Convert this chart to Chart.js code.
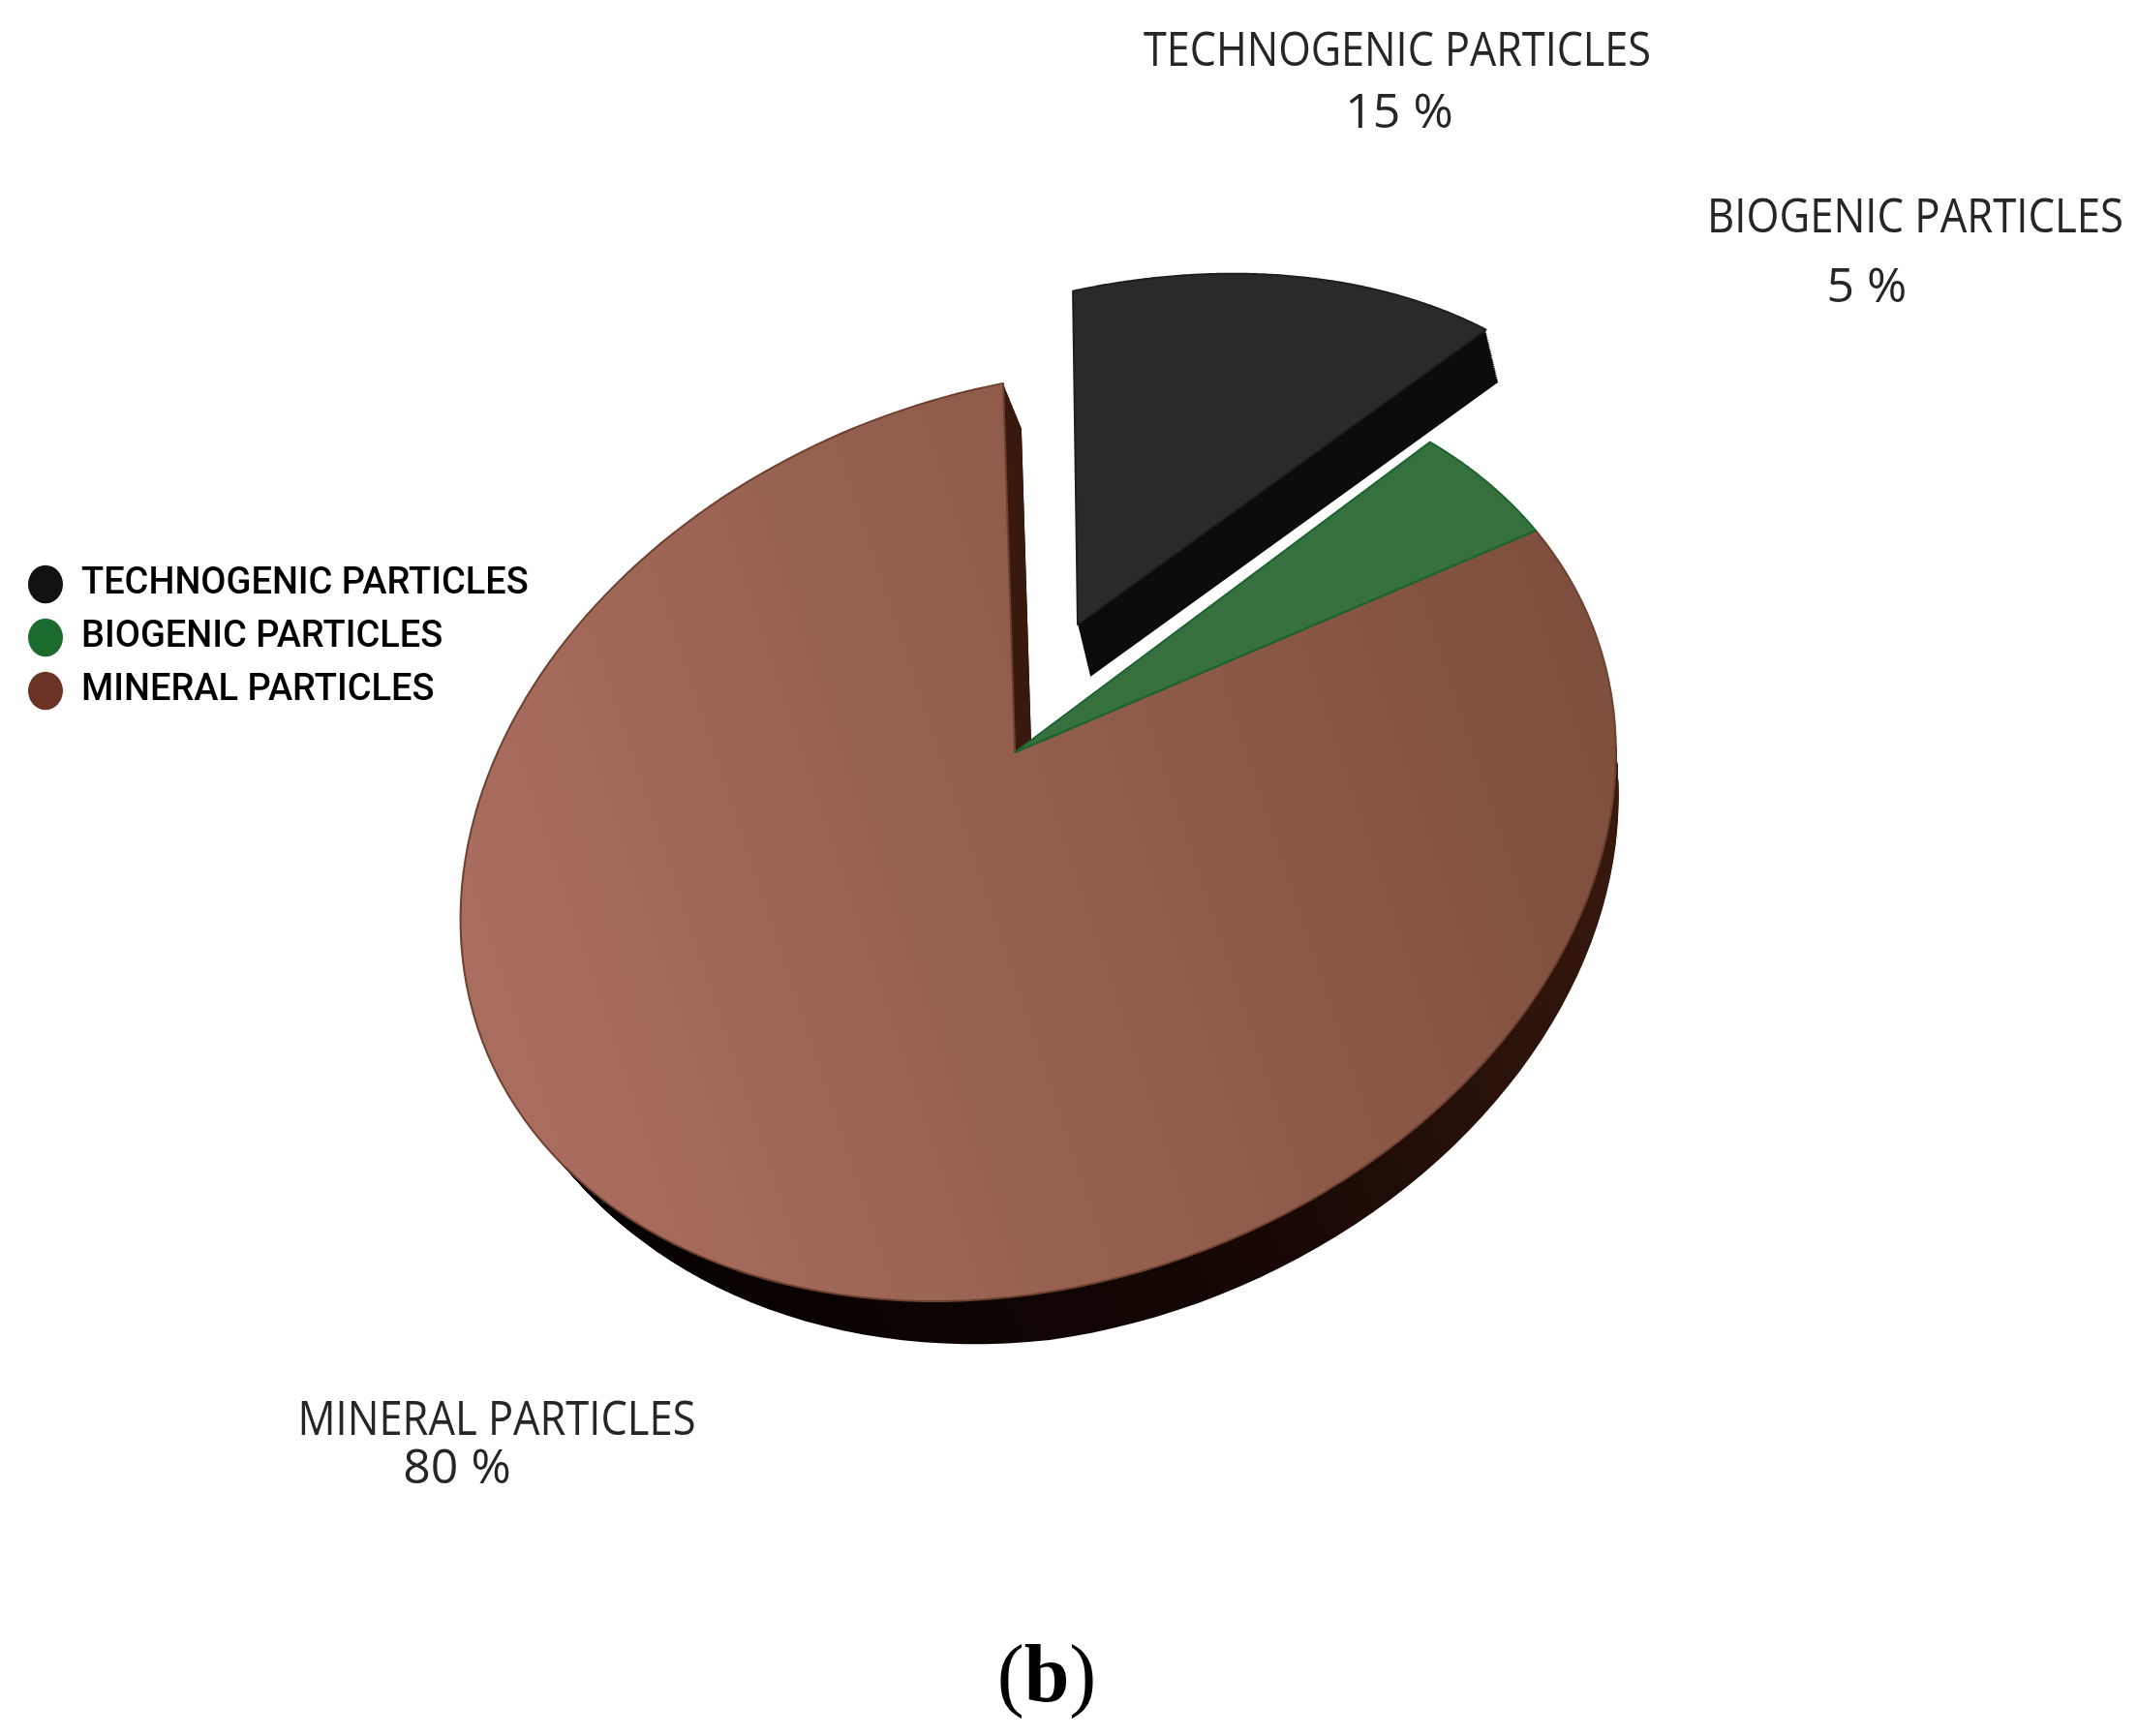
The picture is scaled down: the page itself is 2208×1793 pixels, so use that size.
<!DOCTYPE html>
<html>
<head>
<meta charset="utf-8">
<title>Particles</title>
<script src="https://cdn.jsdelivr.net/npm/chart.js@4"></script>
<style>
  body { margin: 0; background: #fff; }
  #wrap { position: relative; width: 2208px; height: 1793px; }
  #caption { position: absolute; left: 981px; width: 200px; top: 1680px; text-align: center;
    font: 400 84px "Liberation Serif", serif; color: #000; }
</style>
</head>
<body>
<div id="wrap">
  <canvas id="myChart" width="2208" height="1793"></canvas>
  <div id="caption">(<b>b</b>)</div>
</div>
<script>
const categories = ["TECHNOGENIC PARTICLES", "BIOGENIC PARTICLES", "MINERAL PARTICLES"];
const percents = [15, 5, 80];
const sliceColors = ["#292a2a", "#36703f", "#8f5c4b"];
const legendColors = ["#111212", "#1c6b2e", "#6b3226"];

/* where four rim points of the pie land in the tilted picture */
const rimTop = { x: 1036, y: 396 };     // 0 deg
const rimBottom = { x: 1066, y: 1337 }; // 180 deg
const rimRight = { x: 1586, y: 548 };   // end of the biogenic slice
const rimLeft = { x: 482, y: 1018 };    // opposite of that

function crossing(a, b, c, d) {
  var s = ((c.x - a.x) * (d.y - c.y) - (c.y - a.y) * (d.x - c.x)) /
          ((b.x - a.x) * (d.y - c.y) - (b.y - a.y) * (d.x - c.x));
  return { x: a.x + s * (b.x - a.x), y: a.y + s * (b.y - a.y) };
}

function makeProjection(splitAngle) {
  var c = crossing(rimTop, rimBottom, rimRight, rimLeft);
  var g = (2 * c.y - rimTop.y - rimBottom.y) / (rimTop.y - rimBottom.y);
  var h = (2 * c.y - rimRight.y - rimLeft.y) / (rimRight.y - rimLeft.y);
  var px = rimTop.x * (1 + g) - c.x, py = rimTop.y * (1 + g) - c.y;
  var qx = rimRight.x * (1 + h) - c.x, qy = rimRight.y * (1 + h) - c.y;
  var bx = Math.cos(splitAngle), by = Math.sin(splitAngle);
  return function (radius, angle) {
    var x = radius * Math.cos(angle), y = radius * Math.sin(angle);
    var v = x / bx;
    var u = -y + v * by;
    var w = u * g + v * h + 1;
    return { x: (u * px + v * qx + c.x) / w, y: (u * py + v * qy + c.y) / w };
  };
}

function fillPts(ctx, pts, fill, stroke) {
  ctx.beginPath();
  pts.forEach(function (p, i) {
    if (i === 0) ctx.moveTo(p.x, p.y); else ctx.lineTo(p.x, p.y);
  });
  ctx.closePath();
  ctx.fillStyle = fill;
  ctx.fill();
  if (stroke) {
    ctx.strokeStyle = stroke;
    ctx.lineWidth = 2;
    ctx.lineJoin = "round";
    ctx.stroke();
  }
}

// fills the side wall by stacking the slice outline down its depth
function extrude(ctx, pts, depth, fill) {
  for (var i = 30; i > 0; i--) {
    var t = i / 30;
    fillPts(ctx, pts.map(function (p) {
      var d = depth(p);
      return { x: p.x + d.x * t, y: p.y + d.y * t };
    }), fill);
  }
}

const tiltedPie = {
  id: "tiltedPie",
  beforeDatasetsDraw: function (chart) {
    var ctx = chart.ctx;
    var arcs = chart.getDatasetMeta(0).data;
    var project = makeProjection(arcs[1].endAngle);
    var slices = arcs.map(function (el) {
      var pts = [project(0, 0)];
      for (var i = 0; i <= 160; i++) {
        pts.push(project(1, el.startAngle + (el.endAngle - el.startAngle) * i / 160));
      }
      return pts;
    });

    // mineral: side wall, then top
    var mineralDepth = function (p) {
      return {
        x: 33 - (p.x - 480) * 30 / 1180,
        y: Math.min(47, Math.max(34, 36 + (p.x - 700) * 0.03))
      };
    };
    var side = ctx.createLinearGradient(600, 1300, 1680, 800);
    side.addColorStop(0, "#040000");
    side.addColorStop(0.55, "#170804");
    side.addColorStop(1, "#3a1a10");
    extrude(ctx, slices[2], mineralDepth, side);
    // the cut face next to the gap is lighter than the rim
    ctx.save();
    ctx.beginPath();
    ctx.rect(1030, 385, 50, 400);
    ctx.clip();
    extrude(ctx, slices[2], mineralDepth, "#3a1a10");
    ctx.restore();

    var top = ctx.createLinearGradient(500, 1000, 1640, 620);
    top.addColorStop(0, "#a96d60");
    top.addColorStop(0.45, "#945f4f");
    top.addColorStop(1, "#7e4f3e");
    fillPts(ctx, slices[2], top, "#6e4030");

    // biogenic
    fillPts(ctx, slices[1], sliceColors[1], "#1c642e");

    // technogenic pulled out of the pie
    var apex = slices[0][0];
    var pulled = slices[0].map(function (p) {
      var dx = p.x - apex.x, dy = p.y - apex.y;
      return { x: 1113 + 0.97 * dx - 0.018 * dy, y: 645 - 0.034 * dx + 0.905 * dy };
    });
    extrude(ctx, pulled, function () { return { x: 13, y: 54 }; }, "#0b0c0c");
    fillPts(ctx, pulled, sliceColors[0], "#1d1e1e");
    return false;
  },
  afterDraw: function (chart) {
    var ctx = chart.ctx;
    var spots = [
      { x: 1443, y: 68, pctX: 1445, pctY: 132, w: 524 },
      { x: 1978, y: 240, pctX: 1928, pctY: 312, w: 430 },
      { x: 513, y: 1482, pctX: 472, pctY: 1532, w: 411 }
    ];
    ctx.save();
    ctx.fillStyle = "#262626";
    ctx.textAlign = "center";
    ctx.font = '50px "Open Sans"';
    spots.forEach(function (s, i) {
      ctx.fillText(categories[i], s.x, s.y, s.w);
      ctx.fillText(percents[i] + " %", s.pctX, s.pctY);
    });
    ctx.restore();
  }
};

new Chart("myChart", {
  type: "pie",
  data: {
    labels: categories,
    datasets: [{ data: percents, backgroundColor: sliceColors }]
  },
  plugins: [tiltedPie],
  options: {
    responsive: false,
    animation: false,
    layout: { padding: { left: 12, bottom: 476 } },
    plugins: {
      tooltip: { enabled: false },
      title: { display: false },
      legend: {
        position: "left",
        labels: {
          usePointStyle: true,
          pointStyleWidth: 36,
          boxHeight: 28,
          padding: 17,
          color: "#2a2a2a",
          font: { family: 'Roboto, "Open Sans"', size: 38, weight: "500" },
          generateLabels: function () {
            return categories.map(function (c, i) {
              return { text: c, fillStyle: legendColors[i], strokeStyle: legendColors[i],
                lineWidth: 0, pointStyle: "circle", index: i };
            });
          }
        }
      }
    }
  }
});
</script>
</body>
</html>
